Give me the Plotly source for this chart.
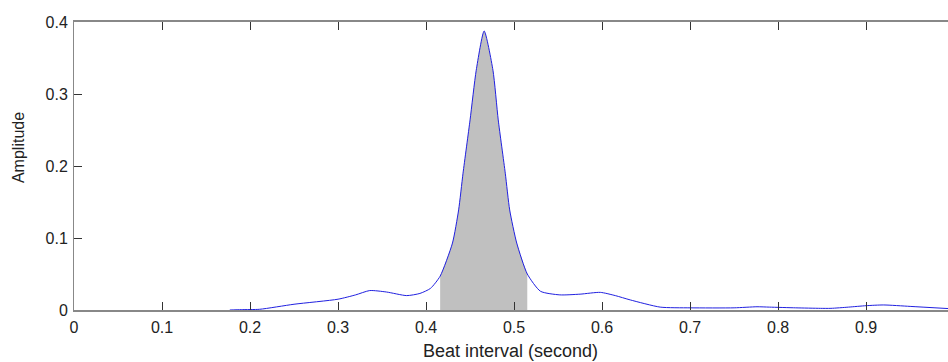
import numpy as np
import plotly.graph_objects as go

# Beat interval (seconds) and amplitude
beat_interval = [0.177, 0.19, 0.211, 0.25, 0.3, 0.32, 0.336, 0.355, 0.378, 0.393, 0.405,
                 0.416, 0.43, 0.437, 0.442, 0.45, 0.457, 0.466, 0.476, 0.482, 0.49,
                 0.495, 0.503, 0.515, 0.53, 0.552, 0.575, 0.598, 0.615, 0.632, 0.666,
                 0.7, 0.75, 0.776, 0.79, 0.82, 0.848, 0.86, 0.88, 0.9, 0.92, 0.95, 0.993]
amplitude = [0.0, 0.0005, 0.001, 0.008, 0.015, 0.021, 0.027, 0.025, 0.020, 0.023, 0.030,
             0.047, 0.093, 0.139, 0.19, 0.264, 0.333, 0.3875, 0.333, 0.264, 0.19,
             0.139, 0.093, 0.050, 0.026, 0.021, 0.022, 0.0245, 0.02, 0.014, 0.004,
             0.003, 0.003, 0.0045, 0.004, 0.003, 0.0023, 0.0023, 0.004, 0.006, 0.007, 0.005, 0.002]

shade_start, shade_end = 0.416, 0.515

x_ticks = [0, 0.1, 0.2, 0.3, 0.4, 0.5, 0.6, 0.7, 0.8, 0.9]
x_tick_labels = ["0", "0.1", "0.2", "0.3", "0.4", "0.5", "0.6", "0.7", "0.8", "0.9"]
y_ticks = [0, 0.1, 0.2, 0.3, 0.4]
y_tick_labels = ["0", "0.1", "0.2", "0.3", "0.4"]

x_arr = np.array(beat_interval)
y_arr = np.array(amplitude)
mask = (x_arr >= shade_start) & (x_arr <= shade_end)
shade_x = x_arr[mask]
shade_y = y_arr[mask]

FONT = "Liberation Sans, Arial, sans-serif"

fig = go.Figure()
fig.add_trace(go.Scatter(
    x=shade_x, y=shade_y, mode="lines", line=dict(width=0, shape="spline", smoothing=0.6),
    fill="tozeroy", fillcolor="#c0c0c0", hoverinfo="skip", showlegend=False))
fig.add_trace(go.Scatter(
    x=beat_interval, y=amplitude, mode="lines",
    line=dict(color="#2020e0", width=1, shape="spline", smoothing=0.6),
    showlegend=False))

fig.update_layout(
    width=948, height=362,
    margin=dict(l=74, r=0, t=22, b=52),
    paper_bgcolor="white", plot_bgcolor="white",
    font=dict(family=FONT, size=16, color="#222"),
    xaxis=dict(
        range=[0, 0.993], tickvals=x_ticks, ticktext=x_tick_labels,
        ticks="inside", ticklen=8, tickcolor="#333", tickwidth=1,
        showline=True, linecolor="#888", linewidth=2, mirror="ticks",
        showgrid=False, zeroline=False, ticklabelstandoff=2,
        tickfont=dict(size=16),
    ),
    yaxis=dict(
        range=[0, 0.4], tickvals=y_ticks, ticktext=y_tick_labels,
        ticks="inside", ticklen=8, tickcolor="#333", tickwidth=1,
        showline=True, linecolor="#888", linewidth=1,
        showgrid=False, zeroline=False, ticklabelstandoff=2,
        tickfont=dict(size=16),
    ),
    yaxis2=dict(
        range=[0, 0.4], overlaying="y", side="right", tickvals=y_ticks,
        showticklabels=False, ticks="inside", ticklen=8, tickcolor="#999",
        showline=False, showgrid=False, zeroline=False,
    ),
    annotations=[
        dict(text="Amplitude", xref="paper", yref="paper", x=-0.064, y=0.5625,
             textangle=-90, showarrow=False, font=dict(size=16, family=FONT, color="#222"),
             xanchor="center", yanchor="middle"),
        dict(text="Beat interval (second)", xref="paper", yref="paper", x=0.499, y=-0.142,
             showarrow=False, font=dict(size=18, family=FONT, color="#222"),
             xanchor="center", yanchor="middle"),
    ],
)

fig.write_html("out.html")
